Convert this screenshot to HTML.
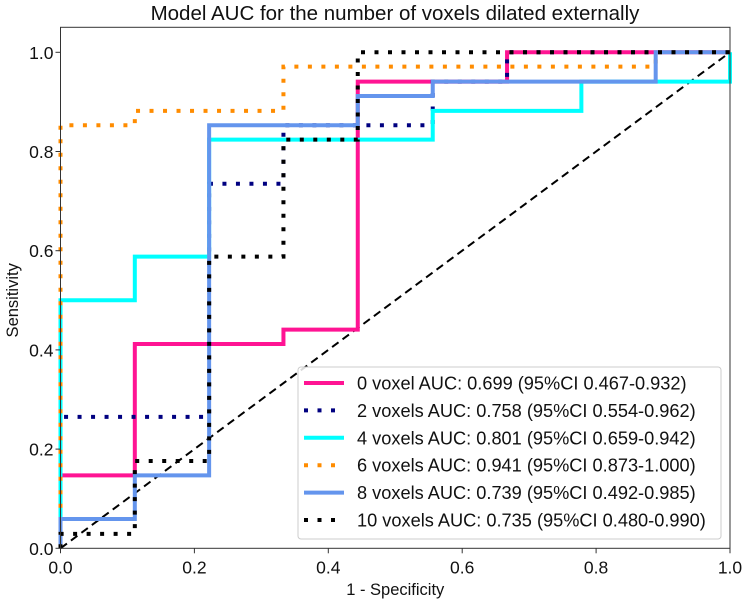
<!DOCTYPE html>
<html><head><meta charset="utf-8"><style>
body{margin:0;background:#fff;}
text{font-family:"Liberation Sans",sans-serif;fill:#111;}
</style></head><body>
<svg id="chart" width="744" height="602" xmlns="http://www.w3.org/2000/svg"></svg>
<script>
const seriesNames=["0 voxel AUC: 0.699 (95%CI 0.467-0.932)","2 voxels AUC: 0.758 (95%CI 0.554-0.962)","4 voxels AUC: 0.801 (95%CI 0.659-0.942)","6 voxels AUC: 0.941 (95%CI 0.873-1.000)","8 voxels AUC: 0.739 (95%CI 0.492-0.985)","10 voxels AUC: 0.735 (95%CI 0.480-0.990)"];
const seriesColors=["#ff1493","#000080","#00ffff","#ff8c00","#6495ed","#000000"];
const seriesDotted=[false,true,false,true,false,true];
const fpr0=[0,0,0.111,0.111,0.333,0.333,0.444,0.444,0.667,0.667,1];
const tpr0=[0,0.147,0.147,0.412,0.412,0.441,0.441,0.941,0.941,1,1];
const fpr2=[0,0,0.222,0.222,0.333,0.333,0.556,0.556,0.667,0.667,1];
const tpr2=[0,0.265,0.265,0.735,0.735,0.853,0.853,0.941,0.941,1,1];
const fpr4=[0,0,0.111,0.111,0.222,0.222,0.556,0.556,0.778,0.778,1,1];
const tpr4=[0,0.5,0.5,0.588,0.588,0.824,0.824,0.882,0.882,0.941,0.941,1];
const fpr6=[0,0,0.111,0.111,0.333,0.333,0.889,0.889,1];
const tpr6=[0,0.853,0.853,0.882,0.882,0.971,0.971,1,1];
const fpr8=[0,0,0.111,0.111,0.222,0.222,0.444,0.444,0.556,0.556,0.889,0.889,1];
const tpr8=[0,0.059,0.059,0.147,0.147,0.853,0.853,0.912,0.912,0.941,0.941,1,1];
const fpr10=[0,0,0.111,0.111,0.222,0.222,0.333,0.333,0.444,0.444,1];
const tpr10=[0,0.029,0.029,0.176,0.176,0.588,0.588,0.824,0.824,1,1];
const allFpr=[fpr0,fpr2,fpr4,fpr6,fpr8,fpr10];
const allTpr=[tpr0,tpr2,tpr4,tpr6,tpr8,tpr10];
const xTicks=[0,0.2,0.4,0.6,0.8,1.0];
const yTicks=[0,0.2,0.4,0.6,0.8,1.0];

const X0=60.5,X1=730,Y0=548.3,Y1=52.3;
const sx=v=>X0+v*(X1-X0);
const sy=v=>Y0-v*(Y0-Y1);
const svg=document.getElementById('chart');
const NS="http://www.w3.org/2000/svg";
function mk(tag,attrs,parent){const e=document.createElementNS(NS,tag);for(const k in attrs)e.setAttribute(k,attrs[k]);(parent||svg).appendChild(e);return e;}

const title=mk('text',{x:395,y:20,'text-anchor':'middle','font-size':20.5});
title.textContent="Model AUC  for the number of voxels dilated externally";



const diag=mk('line',{x1:sx(0),y1:sy(0),x2:sx(1),y2:sy(1),stroke:'#000','stroke-width':2,'stroke-dasharray':'8,5'});



for(let i=0;i<allFpr.length;i++){
  const pts=allFpr[i].map((f,j)=>sx(f)+','+sy(allTpr[i][j])).join(' ');
  const a={points:pts,fill:'none',stroke:seriesColors[i],'stroke-width':4};
  if(seriesDotted[i]){a['stroke-dasharray']='4,9.5';}
  const p=mk('polyline',a);
  
  
}

const fr=mk('rect',{x:X0,y:27.3,width:X1-X0,height:Y0-27.3,fill:'none',stroke:'#333','stroke-width':1});



xTicks.forEach(t=>{
  mk('line',{x1:sx(t),y1:Y0,x2:sx(t),y2:Y0+5,stroke:'#333'});
  const tx=mk('text',{x:sx(t),y:Y0+25,'text-anchor':'middle','font-size':17.5});
  tx.textContent=t.toFixed(1);
  
  
});
yTicks.forEach(t=>{
  mk('line',{x1:X0-5,y1:sy(t),x2:X0,y2:sy(t),stroke:'#333'});
  const tx=mk('text',{x:X0-7,y:sy(t)+6.5,'text-anchor':'end','font-size':17.5});
  tx.textContent=t.toFixed(1);
  
  
});
const xl=mk('text',{x:sx(0.5),y:595,'text-anchor':'middle','font-size':16.5});
xl.textContent="1 - Specificity";


const yl=mk('text',{x:0,y:0,'text-anchor':'middle','font-size':16.5,transform:'translate(18,'+sy(0.5)+') rotate(-90)'});
yl.textContent="Sensitivity";



const lg=mk('g',{});


mk('rect',{x:298,y:367,width:423,height:172,rx:3,fill:'#fff','fill-opacity':0.85,stroke:'#ccc'},lg);
seriesNames.forEach((n,i)=>{
  const y=383+i*27.4;
  const a={x1:304,y1:y,x2:344,y2:y,stroke:seriesColors[i],'stroke-width':4};
  if(seriesDotted[i])a['stroke-dasharray']='4,9.5';
  const h=mk('line',a,lg);
  
  
  const t=mk('text',{x:357,y:y+6.5,'font-size':18.2},lg);
  t.textContent=n;
  
  
});
</script>
</body></html>
